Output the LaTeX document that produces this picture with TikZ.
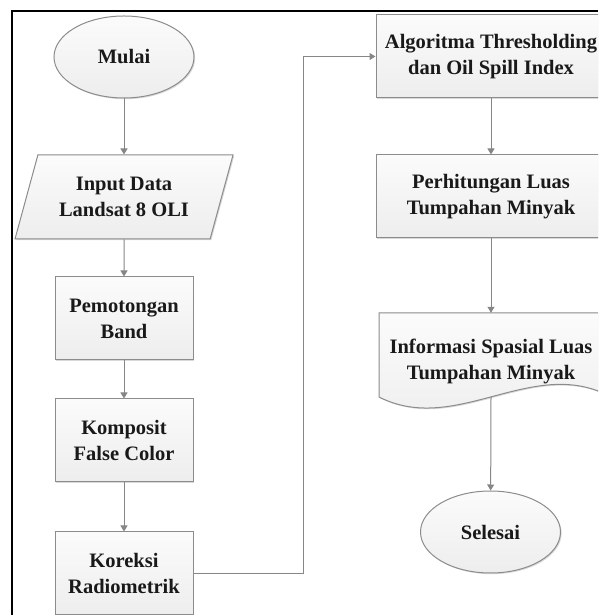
\documentclass[tikz,border=0pt]{standalone}
\usepackage{fontspec}
\setmainfont{Liberation Serif}
\usetikzlibrary{shapes.geometric, arrows.meta, shadows}

\begin{document}
\begin{tikzpicture}[x=1pt, y=1pt,
        every node/.style={font=\fontsize{20.5}{26}\selectfont\bfseries, align=center, text=black!90},
        fillbox/.style={draw=gray!90, line width=1pt, top color=gray!3, bottom color=gray!14,
            drop shadow={shadow xshift=1.2pt, shadow yshift=-1.2pt, opacity=0.3}},
        procbox/.style={fillbox, rectangle, minimum height=83pt, inner sep=0pt},
        termbox/.style={fillbox, ellipse, minimum width=140pt, minimum height=82pt, inner sep=0pt},
        iobox/.style={fillbox, trapezium, trapezium left angle=60, trapezium right angle=120,
            trapezium stretches body, minimum width=218pt, minimum height=84pt, inner sep=0pt},
        flow/.style={draw=gray!95, line width=1pt, -{Triangle[width=7pt, length=6pt]}}]
    % Parameters
    \def\leftx{124}
    \def\rightx{491}

    \useasboundingbox (0,0) rectangle (598,615);
    \clip (0,0) rectangle (598,615);

    % Draw the frame
    \draw[line width=1.3pt] (12,0) -- (12,604) -- (598,604);

    % Left column
    \node[termbox] (start) at (\leftx,558) {Mulai};
    \node[iobox] (input) at (\leftx,418) {Input Data\\Landsat 8 OLI};
    \node[procbox, minimum width=138pt] (cut) at (\leftx,296.5) {Pemotongan\\Band};
    \node[procbox, minimum width=138pt] (comp) at (\leftx,174.5) {Komposit\\False Color};
    \node[procbox, minimum width=138pt] (corr) at (\leftx,41.5) {Koreksi\\Radiometrik};

    % Right column
    \node[procbox, minimum width=230pt] (algo) at (\rightx,558.5) {Algoritma Thresholding\\dan Oil Spill Index};
    \node[procbox, minimum width=230pt] (area) at (\rightx,418.5) {Perhitungan Luas\\Tumpahan Minyak};
    \path[fillbox] (379,302) -- (603,302) -- (603,222)
        .. controls (528,255) and (454,180) .. (379,218) -- cycle;
    \node[minimum width=224pt, minimum height=84pt, inner sep=0pt] (info) at (\rightx,260) {};
    \node (infotext) at ([yshift=-6pt]info.center) {Informasi Spasial Luas\\Tumpahan Minyak};
    \node[termbox] (finish) at (490.5,83) {Selesai};

    % Add arrows
    \draw[flow] (start) -- (input);
    \draw[flow] (input) -- (cut);
    \draw[flow] (cut) -- (comp);
    \draw[flow] (comp) -- (corr);
    \draw[flow] (corr.east) -- ++(110,0) |- (algo.west);
    \draw[flow] (algo) -- (area);
    \draw[flow] (area) -- (info.north);
    \draw[flow] (info.south) -- (finish);
\end{tikzpicture}
\end{document}
